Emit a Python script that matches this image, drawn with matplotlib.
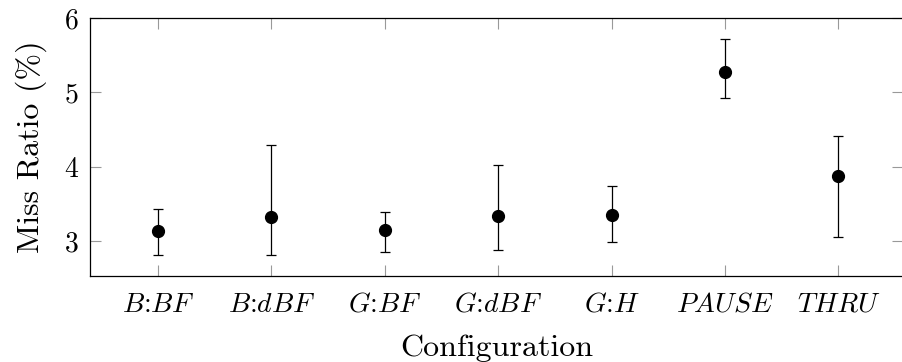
import numpy as np
import matplotlib.pyplot as plt

plt.rcParams['font.family'] = 'serif'
plt.rcParams['font.serif'] = ['cmr10']
plt.rcParams['mathtext.fontset'] = 'cm'
plt.rcParams['axes.formatter.use_mathtext'] = True

configs = ['$B$:$BF$', '$B$:$dBF$', '$G$:$BF$', '$G$:$dBF$', '$G$:$H$', '$PAUSE$', '$THRU$']
miss_mean = [3.14, 3.32, 3.15, 3.34, 3.345, 5.28, 3.87]
miss_low = [2.815, 2.815, 2.852, 2.874, 2.987, 4.929, 3.054]
miss_high = [3.43, 4.296, 3.385, 4.027, 3.735, 5.713, 4.413]

x = np.arange(len(configs))
mean = np.array(miss_mean)
yerr = [mean - np.array(miss_low), np.array(miss_high) - mean]

fig = plt.figure(figsize=(9.03, 3.62), dpi=100)
ax = fig.add_axes([0.0997, 0.2376, 0.9003, 0.7124])

ax.errorbar(x, mean, yerr=yerr, fmt='o', color='black', markersize=8.5,
            elinewidth=0.9, capsize=3.6, capthick=0.9)

ax.set_xlim(-0.6, 6.57)
ax.set_ylim(2.53, 6.0)
ax.set_yticks([3, 4, 5, 6])
ax.set_xticks(x)
ax.set_xticklabels(configs)
ax.tick_params(axis='both', direction='in', length=8, width=0.8, color='#999999',
               labelsize=20, top=True, right=True, pad=8)
ax.tick_params(axis='x', pad=11)
for s in ax.spines.values():
    s.set_linewidth(0.9)

ax.set_xlabel('Configuration', fontsize=23, labelpad=12)
ax.set_ylabel('Miss Ratio (%)', fontsize=23, labelpad=12)

fig.savefig('out.png', dpi=100)
